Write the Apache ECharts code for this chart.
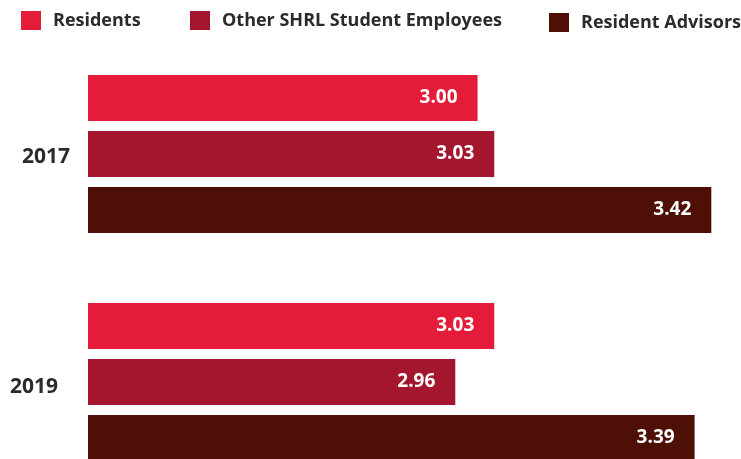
<!DOCTYPE html>
<html>
<head>
<meta charset="utf-8">
<script src="https://cdn.jsdelivr.net/npm/echarts@6/dist/echarts.min.js"></script>
<style>
  html, body { margin: 0; padding: 0; background: #fff; }
  #chart { width: 741px; height: 459px; }
</style>
</head>
<body>
<div id="chart"></div>
<script>
// 数据
var years = ['2017', '2019'];
var seriesNames = ['Residents', 'Other SHRL Student Employees', 'Resident Advisors'];
var residents = [3.00, 3.03];
var otherEmployees = [3.03, 2.96];
var advisors = [3.42, 3.39];

var colors = ['#e41b39', '#a4152e', '#4e0f06'];

function valueLabel() {
    return {
        show: true,
        position: 'insideRight',
        distance: 20,
        color: '#fff',
        fontFamily: 'Open Sans',
        fontWeight: 'bold',
        fontSize: 19,
        formatter: function (p) {
            return p.value.toFixed(2);
        }
    };
}

function makeSeries(name, data, color) {
    return {
        name: name,
        type: 'bar',
        data: data,
        barWidth: 46,
        barGap: '21.7%',
        barCategoryGap: '30.7%',
        itemStyle: { color: color },
        label: valueLabel(),
        silent: true
    };
}

// 图例（分开放置）
function makeLegend(name, left, top) {
    return {
        data: [name],
        left: left,
        top: top,
        icon: 'rect',
        itemWidth: 20,
        itemHeight: 19,
        itemGap: 0,
        padding: 0,
        selectedMode: false,
        textStyle: {
            color: '#2b2b2b',
            fontFamily: 'Open Sans',
            fontWeight: 'bold',
            fontSize: 18,
            padding: [0, 0, 0, 7]
        }
    };
}

var myChart = echarts.init(document.getElementById('chart'));
var option = {
    animation: false,
    backgroundColor: '#fff',
    color: colors,
    legend: [
        makeLegend(seriesNames[0], 21, 11),
        makeLegend(seriesNames[1], 190, 11),
        makeLegend(seriesNames[2], 549, 13)
    ],
    grid: {
        left: 88,
        width: 640,
        top: 40,
        height: 456,
        outerBoundsMode: 'none'
    },
    xAxis: {
        type: 'value',
        min: 2.3,
        max: 3.45,
        show: false
    },
    yAxis: {
        type: 'category',
        data: years,
        inverse: true,
        axisLine: { show: false },
        axisTick: { show: false },
        splitLine: { show: false },
        axisLabel: {
            margin: 18,
            formatter: function (v) {
                return v == '2017' ? '{a|' + v + '}' : '{b|' + v + '}';
            },
            rich: {
                a: {
                    color: '#2b2b2b',
                    fontFamily: 'Open Sans',
                    fontWeight: 'bold',
                    fontSize: 21,
                    padding: [6, 0, 0, 0]
                },
                b: {
                    color: '#2b2b2b',
                    fontFamily: 'Open Sans',
                    fontWeight: 'bold',
                    fontSize: 21,
                    padding: [10, 12, 0, 0]
                }
            }
        }
    },
    series: [
        makeSeries(seriesNames[0], residents, colors[0]),
        makeSeries(seriesNames[1], otherEmployees, colors[1]),
        makeSeries(seriesNames[2], advisors, colors[2])
    ]
};
myChart.setOption(option);
</script>
</body>
</html>
